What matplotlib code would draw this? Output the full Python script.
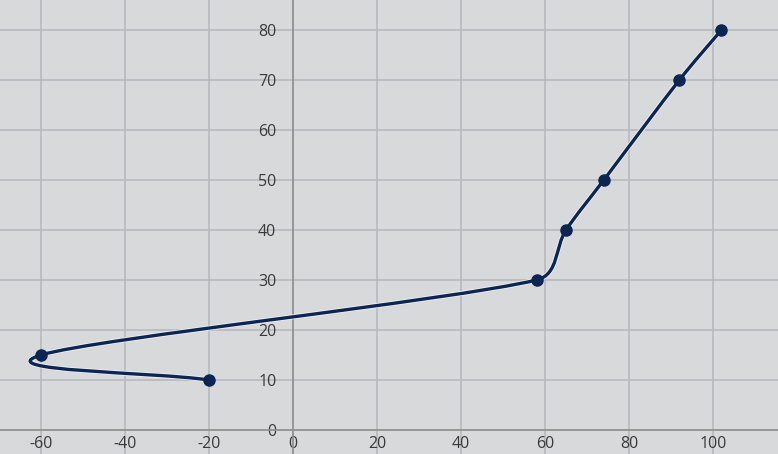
import numpy as np
import matplotlib
matplotlib.use("Agg")
import matplotlib.pyplot as plt
from matplotlib.path import Path
from matplotlib.patches import PathPatch
import matplotlib.patheffects as pe

# Data (in plotting order)
x_vals = [-20, -60, 58, 65, 74, 92, 102]
y_vals = [10, 15, 30, 40, 50, 70, 80]
x_ticks = [-60, -40, -20, 0, 20, 40, 60, 80, 100]
y_ticks = [0, 10, 20, 30, 40, 50, 60, 70, 80]

BG = "#d7d9da"
GRID = "#b5b8ba"
AXIS = "#8e9092"
TEXT = "#3a3a3a"
LINE = "#0d2552"

plt.rcParams['font.family'] = ['Open Sans', 'DejaVu Sans']

fig = plt.figure(figsize=(7.78, 4.54), dpi=100)
fig.patch.set_facecolor(BG)
ax = fig.add_axes([0, 0, 1, 1])
ax.set_facecolor(BG)

ax.set_xlim(-293 / 4.2, (778 - 293) / 4.2)
ax.set_ylim(-4.8, 86)
ax.set_xticks(x_ticks)
ax.set_yticks(y_ticks)
ax.set_xticklabels([str(v) for v in x_ticks])
ax.set_yticklabels([str(v) for v in y_ticks])
ax.grid(True, color=GRID, linewidth=1.1)
ax.set_axisbelow(True)

for s in ["top", "right"]:
    ax.spines[s].set_visible(False)
ax.spines["left"].set_position(("data", 0))
ax.spines["bottom"].set_position(("data", 0))
ax.spines["left"].set_color(AXIS)
ax.spines["bottom"].set_color(AXIS)
ax.spines["left"].set_linewidth(1.2)
ax.spines["bottom"].set_linewidth(1.2)
ax.tick_params(axis="both", length=0, labelsize=11.5, colors=TEXT)
ax.tick_params(axis="y", pad=12)
ax.tick_params(axis="x", pad=4)

# Smooth line (Excel-like cardinal spline in display space, clamped handles)
fig.canvas.draw()
pts = ax.transData.transform(np.column_stack([x_vals, y_vals]))
n = len(pts)


def handle(vec, seg_len, k=0.4):
    L = np.linalg.norm(vec)
    lim = k * seg_len
    if L > lim and L > 0:
        vec = vec * lim / L
    return vec


verts = [pts[0]]
codes = [Path.MOVETO]
for i in range(n - 1):
    p1 = pts[i]
    p2 = pts[i + 1]
    d12 = np.linalg.norm(p2 - p1)
    if i > 0:
        v1 = (p2 - pts[i - 1]) / 6
    else:
        v1 = (p2 - p1) / 3
    if i + 2 < n:
        v2 = (pts[i + 2] - p1) / 6
    else:
        v2 = (p2 - p1) / 3
    c1 = p1 + handle(v1, d12)
    c2 = p2 - handle(v2, d12)
    verts += [c1, c2, p2]
    codes += [Path.CURVE4] * 3
inv = ax.transData.inverted()
path = Path(inv.transform(np.array(verts)), codes)
patch = PathPatch(path, facecolor="none", edgecolor=LINE, linewidth=2.4,
                  zorder=3, capstyle="round", joinstyle="round",
                  path_effects=[pe.Stroke(linewidth=3.6, foreground="#eef0f2"), pe.Normal()])
ax.add_patch(patch)
ax.plot(x_vals, y_vals, linestyle="none", marker="o", markersize=8,
        color=LINE, zorder=4)

fig.savefig("out.png", dpi=100, facecolor=BG)
